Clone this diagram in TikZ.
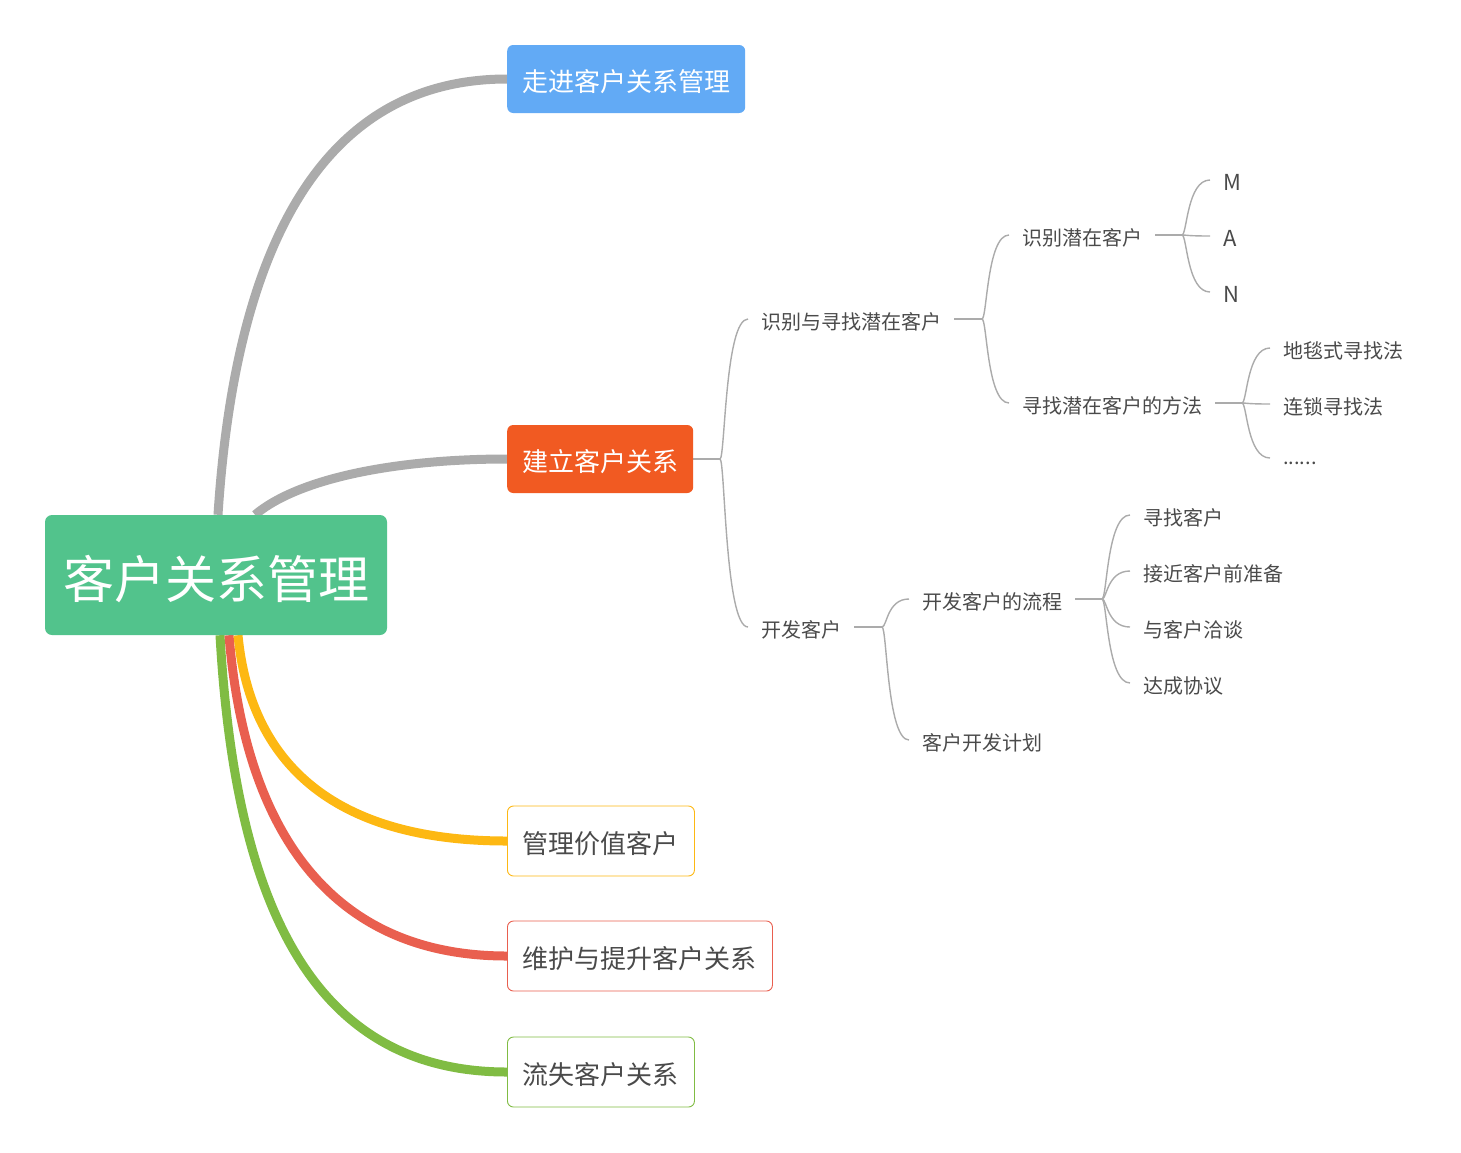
\documentclass[tikz,border=0pt]{standalone}
\usepackage{fontspec}
\setmainfont{Noto Sans CJK SC}
\usetikzlibrary{calc,backgrounds}
\definecolor{rootg}{HTML}{52C38C}
\definecolor{blueb}{HTML}{62AAF5}
\definecolor{orangeb}{HTML}{F15A22}
\definecolor{yel}{HTML}{FDB813}
\definecolor{redl}{HTML}{E95F4F}
\definecolor{grnl}{HTML}{80BC43}
\definecolor{grayl}{HTML}{ABABAB}
\definecolor{thinl}{HTML}{ABABAB}
\definecolor{txt}{HTML}{4A4A4A}
\newcommand{\lowr}[2]{\raisebox{-#1}[\height][\depth]{#2}}
\begin{document}
\begin{tikzpicture}[x=1pt,y=-1pt,
  mainbox/.style={rounded corners=6pt, minimum height=68pt, anchor=west, inner sep=0pt, font=\fontsize{26}{30}\selectfont},
  filledbox/.style={mainbox, fill=#1, text=white},
  outlinebox/.style={mainbox, fill=white, draw=#1, line width=0.9pt, text=txt, minimum height=70pt},
  majorline/.style={line width=9pt, draw=#1},
  minorline/.style={line width=1.4pt, draw=thinl},
  leaf/.style={anchor=west, inner xsep=13pt, inner ysep=2pt, text=txt, font=\fontsize{20}{22}\selectfont},
  latin/.style={leaf, font=\fontsize{22}{24}\selectfont}
]
\useasboundingbox (0,0) rectangle (1461,1152);

% root and main branches
\node[rounded corners=7pt, fill=rootg, text=white, minimum width=342pt, minimum height=120pt, inner sep=0pt, font=\fontsize{51}{56}\selectfont] (root) at (216,575) {\lowr{4pt}{客户关系管理}};
\node[filledbox=blueb, minimum width=238pt] (b1) at (507,79) {\lowr{3pt}{走进客户关系管理}};
\node[filledbox=orangeb, minimum width=186pt] (b2) at (507,459) {\lowr{3pt}{建立客户关系}};
\node[outlinebox=yel, minimum width=187pt] (b3) at (507,841) {\lowr{3pt}{管理价值客户}};
\node[outlinebox=redl, minimum width=265pt] (b4) at (507,956) {\lowr{3pt}{维护与提升客户关系}};
\node[outlinebox=grnl, minimum width=187pt] (b5) at (507,1072) {\lowr{3pt}{流失客户关系}};

% sub nodes
\node[leaf] (s1) at (748,319) {\lowr{3pt}{识别与寻找潜在客户}};
\node[leaf] (s2) at (748,627) {\lowr{3pt}{开发客户}};
\node[leaf] (s11) at (1009,235) {\lowr{3pt}{识别潜在客户}};
\node[leaf] (s12) at (1009,403) {\lowr{3pt}{寻找潜在客户的方法}};
\node[latin] (m) at (1210,180) {\lowr{2pt}{M}};
\node[latin] (a) at (1210,236) {\lowr{2pt}{A}};
\node[latin] (n) at (1210,292) {\lowr{2pt}{N}};
\node[leaf] (s121) at (1270,348) {\lowr{3pt}{地毯式寻找法}};
\node[leaf] (s122) at (1270,404) {\lowr{3pt}{连锁寻找法}};
\node[leaf] (s123) at (1270,458) {\lowr{5pt}{......}};
\node[leaf] (s21) at (909,599) {\lowr{3pt}{开发客户的流程}};
\node[leaf] (s22) at (909,740) {\lowr{3pt}{客户开发计划}};
\node[leaf] (s211) at (1130,515) {\lowr{3pt}{寻找客户}};
\node[leaf] (s212) at (1130,571) {\lowr{3pt}{接近客户前准备}};
\node[leaf] (s213) at (1130,627) {\lowr{3pt}{与客户洽谈}};
\node[leaf] (s214) at (1130,683) {\lowr{3pt}{达成协议}};

% junctions
\coordinate (j0) at (720,459);
\coordinate (j1) at (982,319);
\coordinate (j11) at (1182,235);
\coordinate (j12) at (1242,403);
\coordinate (j2) at (882,627);
\coordinate (j21) at (1102,599);

\begin{pgfonlayer}{background}
% major connectors
\draw[majorline=grayl] ($(root.north)+(2,0)$) .. controls (235,250) and (320,79) .. (b1.west);
\draw[majorline=grayl] ($(root.north)+(39,0)$) .. controls (300,477) and (400,459) .. (b2.west);
\draw[majorline=grnl] ($(root.south)+(4,0)$) .. controls (235,900) and (310,1072) .. (b5.west);
\draw[majorline=redl] ($(root.south)+(13,0)$) .. controls (245,830) and (330,956) .. (b4.west);
\draw[majorline=yel] ($(root.south)+(22,0)$) .. controls (250,760) and (330,841) .. (b3.west);

% minor connectors
\draw[minorline] (b2.east) -- (j0);
\draw[minorline] (s1.east) -- (j1);
\draw[minorline] (s11.east) -- (j11);
\draw[minorline] (s12.east) -- (j12);
\draw[minorline] (s2.east) -- (j2);
\draw[minorline] (s21.east) -- (j21);
\foreach \j/\c in {j0/s1, j0/s2, j1/s11, j1/s12, j11/m, j11/a, j11/n, j12/s121, j12/s122, j12/s123, j2/s21, j2/s22, j21/s211, j21/s212, j21/s213, j21/s214}{
  \draw[minorline] let \p1=(\j), \p2=(\c.west) in (\j) .. controls (\x1+5pt,\y1) and (\x1+5pt,\y2) .. (\c.west);
}
\end{pgfonlayer}
\end{tikzpicture}
\end{document}
